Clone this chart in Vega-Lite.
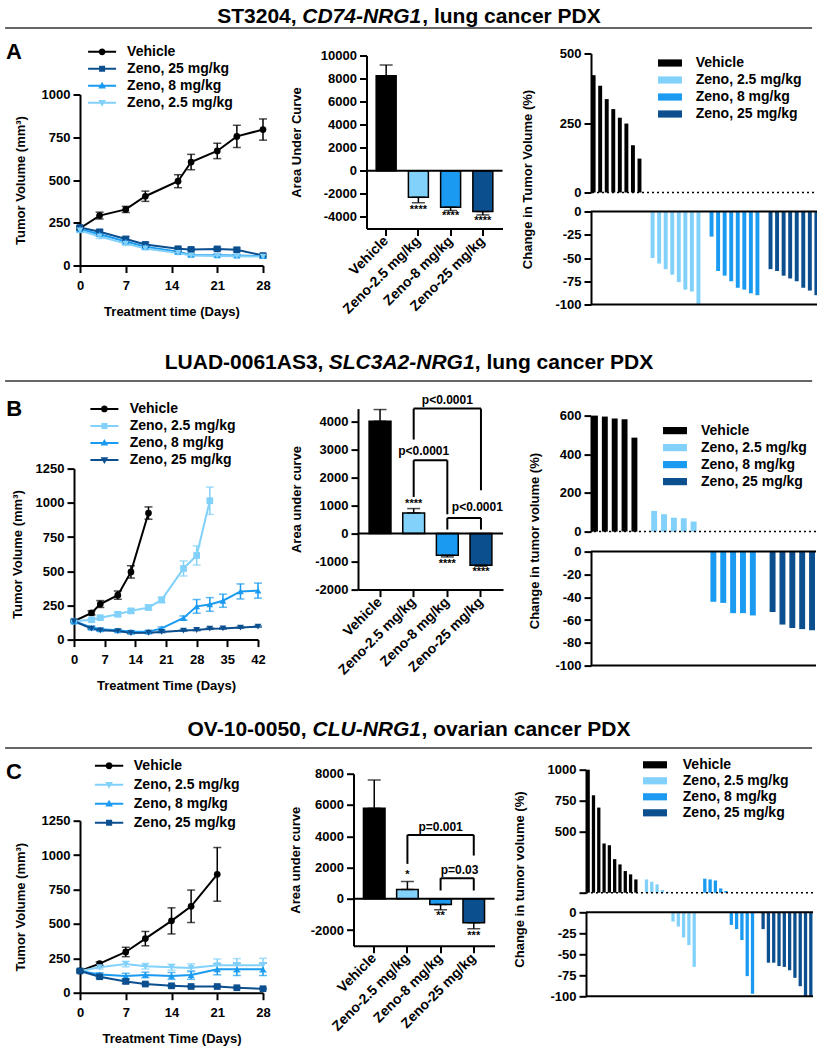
{
"$schema": "https://vega.github.io/schema/vega-lite/v6.json",
"padding": {"left": 4, "top": 5, "right": 0, "bottom": 0},
"background": "white",
"datasets": {
"wfA": [
{"p":1,"g":"Vehicle","v":422},{"p":2,"g":"Vehicle","v":384},{"p":3,"g":"Vehicle","v":336},{"p":4,"g":"Vehicle","v":300},{"p":5,"g":"Vehicle","v":269},{"p":6,"g":"Vehicle","v":248},{"p":7,"g":"Vehicle","v":170},{"p":8,"g":"Vehicle","v":122},
{"p":10,"g":"Zeno, 2.5 mg/kg","v":-50},{"p":11,"g":"Zeno, 2.5 mg/kg","v":-56},{"p":12,"g":"Zeno, 2.5 mg/kg","v":-62},{"p":13,"g":"Zeno, 2.5 mg/kg","v":-68},{"p":14,"g":"Zeno, 2.5 mg/kg","v":-76},{"p":15,"g":"Zeno, 2.5 mg/kg","v":-84},{"p":16,"g":"Zeno, 2.5 mg/kg","v":-86},{"p":17,"g":"Zeno, 2.5 mg/kg","v":-100},
{"p":19,"g":"Zeno, 8 mg/kg","v":-27},{"p":20,"g":"Zeno, 8 mg/kg","v":-64},{"p":21,"g":"Zeno, 8 mg/kg","v":-69},{"p":22,"g":"Zeno, 8 mg/kg","v":-75},{"p":23,"g":"Zeno, 8 mg/kg","v":-82},{"p":24,"g":"Zeno, 8 mg/kg","v":-84},{"p":25,"g":"Zeno, 8 mg/kg","v":-88},{"p":26,"g":"Zeno, 8 mg/kg","v":-90},
{"p":28,"g":"Zeno, 25 mg/kg","v":-62},{"p":29,"g":"Zeno, 25 mg/kg","v":-64},{"p":30,"g":"Zeno, 25 mg/kg","v":-69},{"p":31,"g":"Zeno, 25 mg/kg","v":-72},{"p":32,"g":"Zeno, 25 mg/kg","v":-75},{"p":33,"g":"Zeno, 25 mg/kg","v":-82},{"p":34,"g":"Zeno, 25 mg/kg","v":-85},{"p":35,"g":"Zeno, 25 mg/kg","v":-90}
],
"wfB": [
{"p":1,"g":"Vehicle","v":600},{"p":2,"g":"Vehicle","v":595},{"p":3,"g":"Vehicle","v":585},{"p":4,"g":"Vehicle","v":581},{"p":5,"g":"Vehicle","v":486},
{"p":7,"g":"Zeno, 2.5 mg/kg","v":107},{"p":8,"g":"Zeno, 2.5 mg/kg","v":90},{"p":9,"g":"Zeno, 2.5 mg/kg","v":72},{"p":10,"g":"Zeno, 2.5 mg/kg","v":69},{"p":11,"g":"Zeno, 2.5 mg/kg","v":52},
{"p":13,"g":"Zeno, 8 mg/kg","v":-44},{"p":14,"g":"Zeno, 8 mg/kg","v":-45},{"p":15,"g":"Zeno, 8 mg/kg","v":-54},{"p":16,"g":"Zeno, 8 mg/kg","v":-54},{"p":17,"g":"Zeno, 8 mg/kg","v":-56},
{"p":19,"g":"Zeno, 25 mg/kg","v":-53},{"p":20,"g":"Zeno, 25 mg/kg","v":-64},{"p":21,"g":"Zeno, 25 mg/kg","v":-67},{"p":22,"g":"Zeno, 25 mg/kg","v":-68},{"p":23,"g":"Zeno, 25 mg/kg","v":-69}
],
"wfC": [
{"p":1,"g":"Vehicle","v":1000},{"p":2,"g":"Vehicle","v":792},{"p":3,"g":"Vehicle","v":692},{"p":4,"g":"Vehicle","v":400},{"p":5,"g":"Vehicle","v":386},{"p":6,"g":"Vehicle","v":273},{"p":7,"g":"Vehicle","v":230},{"p":8,"g":"Vehicle","v":176},{"p":9,"g":"Vehicle","v":149},{"p":10,"g":"Vehicle","v":108},
{"p":12,"g":"Zeno, 2.5 mg/kg","v":108},{"p":13,"g":"Zeno, 2.5 mg/kg","v":89},{"p":14,"g":"Zeno, 2.5 mg/kg","v":68},{"p":15,"g":"Zeno, 2.5 mg/kg","v":22},{"p":16,"g":"Zeno, 2.5 mg/kg","v":8},{"p":17,"g":"Zeno, 2.5 mg/kg","v":-11},{"p":18,"g":"Zeno, 2.5 mg/kg","v":-17},{"p":19,"g":"Zeno, 2.5 mg/kg","v":-30},{"p":20,"g":"Zeno, 2.5 mg/kg","v":-39},{"p":21,"g":"Zeno, 2.5 mg/kg","v":-65},
{"p":23,"g":"Zeno, 8 mg/kg","v":114},{"p":24,"g":"Zeno, 8 mg/kg","v":108},{"p":25,"g":"Zeno, 8 mg/kg","v":100},{"p":26,"g":"Zeno, 8 mg/kg","v":35},{"p":27,"g":"Zeno, 8 mg/kg","v":14},{"p":28,"g":"Zeno, 8 mg/kg","v":-15},{"p":29,"g":"Zeno, 8 mg/kg","v":-20},{"p":30,"g":"Zeno, 8 mg/kg","v":-33},{"p":31,"g":"Zeno, 8 mg/kg","v":-76},{"p":32,"g":"Zeno, 8 mg/kg","v":-97},
{"p":34,"g":"Zeno, 25 mg/kg","v":-20},{"p":35,"g":"Zeno, 25 mg/kg","v":-60},{"p":36,"g":"Zeno, 25 mg/kg","v":-60},{"p":37,"g":"Zeno, 25 mg/kg","v":-64},{"p":38,"g":"Zeno, 25 mg/kg","v":-65},{"p":39,"g":"Zeno, 25 mg/kg","v":-69},{"p":40,"g":"Zeno, 25 mg/kg","v":-78},{"p":41,"g":"Zeno, 25 mg/kg","v":-88},{"p":42,"g":"Zeno, 25 mg/kg","v":-100},{"p":43,"g":"Zeno, 25 mg/kg","v":-100}
],
"brB": [
{"a":"Zeno-2.5 mg/kg","b":"Zeno-25 mg/kg","top":4462,"la":3356,"lb":1547,"tx":"Zeno-8 mg/kg","ty":4760,"t":"p<0.0001","k":"c"},
{"a":"Zeno-2.5 mg/kg","b":"Zeno-8 mg/kg","top":2618,"la":1309,"lb":690,"tx":"Zeno-2.5 mg/kg","ty":2940,"t":"p<0.0001","k":"h1"},
{"a":"Zeno-8 mg/kg","b":"Zeno-25 mg/kg","top":559,"la":143,"lb":143,"tx":"Zeno-8 mg/kg","ty":952,"t":"p<0.0001","k":"h2"}
],
"brC": [
{"a":"Zeno-2.5 mg/kg","b":"Zeno-25 mg/kg","top":4086,"la":2234,"lb":2766,"tx":"Zeno-8 mg/kg","ty":4575,"t":"p=0.001","k":"c"},
{"a":"Zeno-8 mg/kg","b":"Zeno-25 mg/kg","top":1319,"la":532,"lb":532,"tx":"Zeno-8 mg/kg","ty":1873,"t":"p=0.03","k":"h"}
]
},
"vconcat": [
{
"vconcat": [
{"vconcat": [
{"hconcat": [
{"width":1,"height":1,"data":{"values":[{}]},"mark":{"type":"point","size":0,"opacity":0},"encoding":{},"title":{"text":"ST3204,","fontSize":21,"fontWeight":"bold","anchor":"start","offset":-0.5}},
{"hconcat": [
{"width":1,"height":1,"data":{"values":[{}]},"mark":{"type":"point","size":0,"opacity":0},"encoding":{},"title":{"text":"CD74-NRG1","fontSize":21,"fontWeight":"bold","fontStyle":"italic","anchor":"start","offset":-0.5}},
{"width":1,"height":1,"data":{"values":[{}]},"mark":{"type":"point","size":0,"opacity":0},"encoding":{},"title":{"text":", lung cancer PDX","fontSize":21,"fontWeight":"bold","anchor":"start","offset":-0.5}}
], "spacing": 0}
], "spacing": 5},
{"width":807,"height":1,"data":{"values":[{}]},"mark":{"type":"rule","color":"#333333","strokeWidth":1.5},"encoding":{"y":{"datum":0,"type":"quantitative","scale":{"domain":[0,1]},"axis":null}}}
], "center": true, "spacing": 0},
{"hconcat": [
{"width":1,"height":1,"data":{"values":[{}]},"mark":{"type":"point","size":0,"opacity":0},"encoding":{}},
{"hconcat": [
{"vconcat": [
{"width":1,"height":52.7,"data":{"values":[{}]},"mark":{"type":"point","size":0,"opacity":0},"encoding":{}},
{
"width": 183, "height": 171,
"data": {"values": [
{"g":"Vehicle","d":0,"v":218,"e":10},{"g":"Vehicle","d":3,"v":292,"e":20},{"g":"Vehicle","d":7,"v":328,"e":18},{"g":"Vehicle","d":10,"v":405,"e":30},{"g":"Vehicle","d":15,"v":493,"e":38},{"g":"Vehicle","d":17,"v":605,"e":45},{"g":"Vehicle","d":21,"v":670,"e":45},{"g":"Vehicle","d":24,"v":755,"e":65},{"g":"Vehicle","d":28,"v":795,"e":62},
{"g":"Zeno, 25 mg/kg","d":0,"v":222,"e":10},{"g":"Zeno, 25 mg/kg","d":3,"v":197,"e":12},{"g":"Zeno, 25 mg/kg","d":7,"v":155,"e":14},{"g":"Zeno, 25 mg/kg","d":10,"v":123,"e":12},{"g":"Zeno, 25 mg/kg","d":15,"v":98,"e":10},{"g":"Zeno, 25 mg/kg","d":17,"v":94,"e":8},{"g":"Zeno, 25 mg/kg","d":21,"v":97,"e":10},{"g":"Zeno, 25 mg/kg","d":24,"v":92,"e":10},{"g":"Zeno, 25 mg/kg","d":28,"v":58,"e":8},
{"g":"Zeno, 8 mg/kg","d":0,"v":212,"e":12},{"g":"Zeno, 8 mg/kg","d":3,"v":183,"e":12},{"g":"Zeno, 8 mg/kg","d":7,"v":140,"e":12},{"g":"Zeno, 8 mg/kg","d":10,"v":110,"e":10},{"g":"Zeno, 8 mg/kg","d":15,"v":80,"e":8},{"g":"Zeno, 8 mg/kg","d":17,"v":62,"e":8},{"g":"Zeno, 8 mg/kg","d":21,"v":60,"e":8},{"g":"Zeno, 8 mg/kg","d":24,"v":58,"e":6},{"g":"Zeno, 8 mg/kg","d":28,"v":55,"e":6},
{"g":"Zeno, 2.5 mg/kg","d":0,"v":205,"e":12},{"g":"Zeno, 2.5 mg/kg","d":3,"v":170,"e":12},{"g":"Zeno, 2.5 mg/kg","d":7,"v":128,"e":10},{"g":"Zeno, 2.5 mg/kg","d":10,"v":100,"e":8},{"g":"Zeno, 2.5 mg/kg","d":15,"v":73,"e":8},{"g":"Zeno, 2.5 mg/kg","d":17,"v":58,"e":6},{"g":"Zeno, 2.5 mg/kg","d":21,"v":56,"e":6},{"g":"Zeno, 2.5 mg/kg","d":24,"v":54,"e":6},{"g":"Zeno, 2.5 mg/kg","d":28,"v":52,"e":6}
]},
"encoding": {
"x": {"field":"d","type":"quantitative","scale":{"domain":[0,28],"nice":false,"zero":false},"axis":{"values":[0,7,14,21,28],"title":"Treatment time (Days)","labelPadding":6.5,"titlePadding":13.5}},
"y": {"field":"v","type":"quantitative","scale":{"domain":[0,1000],"nice":false},"axis":{"values":[0,250,500,750,1000],"format":"d","title":"Tumor Volume (mm³)","titlePadding":14}}
},
"layer": [
{"mark":{"type":"errorbar","ticks":true,"size":8,"thickness":1.5},"encoding":{"yError":{"field":"e"},"color":{"field":"g","type":"nominal","scale":{"domain":["Vehicle","Zeno, 25 mg/kg","Zeno, 8 mg/kg","Zeno, 2.5 mg/kg"],"range":["#000000","#0c4f8f","#1a9af0","#82d1fa"]},"legend":null}}},
{"mark":{"type":"line","strokeWidth":2},"encoding":{"color":{"field":"g","type":"nominal","scale":{"domain":["Vehicle","Zeno, 25 mg/kg","Zeno, 8 mg/kg","Zeno, 2.5 mg/kg"],"range":["#000000","#0c4f8f","#1a9af0","#82d1fa"]},"legend":null}}},
{"mark":{"type":"point","filled":true,"size":45,"opacity":1},"encoding":{"color":{"field":"g","type":"nominal","scale":{"domain":["Vehicle","Zeno, 25 mg/kg","Zeno, 8 mg/kg","Zeno, 2.5 mg/kg"],"range":["#000000","#0c4f8f","#1a9af0","#82d1fa"]},"legend":null},"shape":{"field":"g","type":"nominal","scale":{"domain":["Vehicle","Zeno, 25 mg/kg","Zeno, 8 mg/kg","Zeno, 2.5 mg/kg"],"range":["circle","square","triangle-up","triangle-down"]},"legend":null}}},
{"transform":[{"filter":"false"}],"mark":{"type":"point","filled":true,"opacity":1},"encoding":{
"color":{"field":"g","type":"nominal","scale":{"domain":["Vehicle","Zeno, 25 mg/kg","Zeno, 8 mg/kg","Zeno, 2.5 mg/kg"],"range":["#000000","#0c4f8f","#1a9af0","#82d1fa"]},"legend":{"orient":"none","legendX":-74,"legendY":-52.7,"title":"A","titleOrient":"left","titleFontSize":22,"titleFontWeight":"bold","titleColor":"#000","titlePadding":70.1,"titleAnchor":"start","titleBaseline":"top","symbolSize":400,"symbolStrokeWidth":0,"symbolOpacity":1,"labelOffset":15,"rowPadding":0,"labelFontSize":14,"labelFontWeight":"bold","padding":0}},
"shape":{"field":"g","type":"nominal","scale":{"domain":["Vehicle","Zeno, 25 mg/kg","Zeno, 8 mg/kg","Zeno, 2.5 mg/kg"],"range":["M-1.4,-0.1H1.4V0.1H-1.4Z M0.34,0A0.34,0.34,0,1,1,-0.34,0A0.34,0.34,0,1,1,0.34,0Z","M-1.4,-0.1H1.4V0.1H-1.4Z M-0.3,-0.3H0.3V0.3H-0.3Z","M-1.4,-0.1H1.4V0.1H-1.4Z M0,-0.4L0.38,0.27H-0.38Z","M-1.4,-0.1H1.4V0.1H-1.4Z M0,0.4L-0.38,-0.27H0.38Z"]},"legend":{"orient":"none","legendX":-74,"legendY":-52.7,"title":"A","titleOrient":"left","titleFontSize":22,"titleFontWeight":"bold","titleColor":"#000","titlePadding":70.1,"titleAnchor":"start","titleBaseline":"top","symbolSize":400,"symbolStrokeWidth":0,"symbolOpacity":1,"labelOffset":15,"rowPadding":0,"labelFontSize":14,"labelFontWeight":"bold","padding":0}}
}}
],
"resolve": {"scale":{"color":"independent","shape":"independent"},"legend":{"color":"independent","shape":"independent"}}
}
], "spacing": 0, "bounds": "flush", "resolve": {"scale":{"color":"independent","shape":"independent"},"legend":{"color":"independent","shape":"independent"}}},
{"vconcat": [
{"width":1,"height":14,"data":{"values":[{}]},"mark":{"type":"point","size":0,"opacity":0},"encoding":{}},
{
"width": 136, "height": 173,
"data": {"values": [
{"g":"Vehicle","v":8235,"e":9176,"s":"","sy":0},
{"g":"Zeno-2.5 mg/kg","v":-2294,"e":-2765,"s":"****","sy":-3380},
{"g":"Zeno-8 mg/kg","v":-3147,"e":-3441,"s":"****","sy":-3910},
{"g":"Zeno-25 mg/kg","v":-3529,"e":-3824,"s":"****","sy":-4350}
]},
"layer": [
{"mark":{"type":"bar","stroke":"#000","strokeWidth":1.5},"encoding":{
"x":{"field":"g","type":"nominal","sort":null,"scale":{"domain":["Vehicle","Zeno-2.5 mg/kg","Zeno-8 mg/kg","Zeno-25 mg/kg"],"paddingInner":0.38,"paddingOuter":0.3},"axis":{"title":null,"labelAngle":-45,"labelAlign":"right","labelBaseline":"middle","labelPadding":3,"labelFontSize":14}},
"y":{"field":"v","type":"quantitative","scale":{"domain":[-5000,10000],"nice":false,"zero":false},"axis":{"values":[-4000,-2000,0,2000,4000,6000,8000,10000],"format":"d","title":"Area Under Curve","titlePadding":17}},
"color":{"field":"g","type":"nominal","scale":{"domain":["Vehicle","Zeno-2.5 mg/kg","Zeno-8 mg/kg","Zeno-25 mg/kg"],"range":["#000000","#82d1fa","#1a9af0","#0c4f8f"]},"legend":null}}},
{"mark":{"type":"errorbar","ticks":true,"size":13,"thickness":1.5,"color":"#000"},"encoding":{"x":{"field":"g","type":"nominal","axis":{"title":null,"labelAngle":-45,"labelAlign":"right","labelBaseline":"middle","labelPadding":3,"labelFontSize":14}},"y":{"field":"v","type":"quantitative","axis":{"values":[-4000,-2000,0,2000,4000,6000,8000,10000],"format":"d","title":"Area Under Curve","titlePadding":17}},"y2":{"field":"e"}}},
{"data":{"values":[{}]},"mark":{"type":"rule","color":"#000","strokeWidth":2},"encoding":{"y":{"datum":0,"type":"quantitative","axis":{"values":[-4000,-2000,0,2000,4000,6000,8000,10000],"format":"d","title":"Area Under Curve","titlePadding":17}}}},
{"mark":{"type":"text","fontSize":11,"fontWeight":"bold","baseline":"middle"},"encoding":{"x":{"field":"g","type":"nominal","axis":{"title":null,"labelAngle":-45,"labelAlign":"right","labelBaseline":"middle","labelPadding":3,"labelFontSize":14}},"y":{"field":"sy","type":"quantitative","axis":{"values":[-4000,-2000,0,2000,4000,6000,8000,10000],"format":"d","title":"Area Under Curve","titlePadding":17}},"text":{"field":"s"}}}
]
},
{"width":1,"height":97,"data":{"values":[{}]},"mark":{"type":"point","size":0,"opacity":0},"encoding":{}}
], "spacing": 0, "bounds": "flush"},
{"vconcat": [
{"width":1,"height":11.7,"data":{"values":[{}]},"mark":{"type":"point","size":0,"opacity":0},"encoding":{}},
{
"vconcat": [
{"width":228,"height":139,
"layer":[
{"data":{"name":"wfA"},"transform":[{"filter":"datum.v > 0"}],"mark":{"type":"bar"},"encoding":{
"x":{"field":"p","type":"ordinal","scale":{"domain":[1,2,3,4,5,6,7,8,9,10,11,12,13,14,15,16,17,18,19,20,21,22,23,24,25,26,27,28,29,30,31,32,33,34,35],"paddingInner":0.4,"paddingOuter":0.1},"axis":null},
"y":{"field":"v","type":"quantitative","scale":{"domain":[0,500],"nice":false},"axis":{"values":[0,250,500],"title":null}},
"color":{"field":"g","type":"nominal","scale":{"domain":["Vehicle","Zeno, 2.5 mg/kg","Zeno, 8 mg/kg","Zeno, 25 mg/kg"],"range":["#000000","#82d1fa","#1a9af0","#0c4f8f"]},"legend":{"orient":"none","legendX":69.5,"legendY":0,"title":null,"symbolType":"M-1.26,-0.38H1.26V0.38H-1.26Z","symbolSize":361,"symbolStrokeWidth":0,"symbolOpacity":1,"labelOffset":16.2,"rowPadding":0,"labelFontSize":14,"labelFontWeight":"bold","padding":0}}}},
{"data":{"values":[{}]},"mark":{"type":"rule","color":"#000","strokeWidth":1.5,"strokeDash":[2,3]},"encoding":{"y":{"datum":0,"type":"quantitative","axis":{"values":[0,250,500],"title":null}}}}
]},
{"width":228,"height":93,
"layer":[
{"data":{"name":"wfA"},"transform":[{"filter":"datum.v < 0"}],"mark":{"type":"bar"},"encoding":{
"x":{"field":"p","type":"ordinal","scale":{"domain":[1,2,3,4,5,6,7,8,9,10,11,12,13,14,15,16,17,18,19,20,21,22,23,24,25,26,27,28,29,30,31,32,33,34,35],"paddingInner":0.4,"paddingOuter":0.1},"axis":null},
"y":{"field":"v","type":"quantitative","scale":{"domain":[-100,0],"nice":false},"axis":{"values":[-100,-75,-50,-25,0],"title":null}},
"color":{"field":"g","type":"nominal","scale":{"domain":["Vehicle","Zeno, 2.5 mg/kg","Zeno, 8 mg/kg","Zeno, 25 mg/kg"],"range":["#000000","#82d1fa","#1a9af0","#0c4f8f"]},"legend":null}}},
{"data":{"values":[{}]},"mark":{"type":"rule","color":"#000","strokeWidth":2},"encoding":{"y":{"datum":0,"type":"quantitative","axis":{"values":[-100,-75,-50,-25,0],"title":null}}}},
{"data":{"values":[{}]},"mark":{"type":"rule","color":"#000","strokeWidth":2},"encoding":{"y":{"datum":-100,"type":"quantitative","axis":{"values":[-100,-75,-50,-25,0],"title":null}}}}
]}
],
"spacing": 19, "bounds": "flush",
"title": {"text":"Change in Tumor Volume (%)","orient":"left","anchor":"middle","fontSize":13,"fontWeight":"bold","offset":19.5,"frame":"bounds"},
"resolve": {"scale":{"color":"independent"},"legend":{"color":"independent"}}
}
], "spacing": 0, "bounds": "flush", "resolve": {"scale":{"color":"independent"},"legend":{"color":"independent"}}}
],
"spacing": 18.5,
"resolve": {"scale":{"color":"independent","shape":"independent"},"legend":{"color":"independent","shape":"independent"}}
}
], "spacing": 0, "resolve": {"scale":{"color":"independent","shape":"independent"},"legend":{"color":"independent","shape":"independent"}}}
],
"spacing": 12.5,
"resolve": {"scale":{"color":"independent","shape":"independent"},"legend":{"color":"independent","shape":"independent"}}
},
{
"vconcat": [
{"vconcat": [
{"hconcat": [
{"width":1,"height":1,"data":{"values":[{}]},"mark":{"type":"point","size":0,"opacity":0},"encoding":{},"title":{"text":"LUAD-0061AS3,","fontSize":21,"fontWeight":"bold","anchor":"start","offset":-0.5}},
{"hconcat": [
{"width":1,"height":1,"data":{"values":[{}]},"mark":{"type":"point","size":0,"opacity":0},"encoding":{},"title":{"text":"SLC3A2-NRG1","fontSize":21,"fontWeight":"bold","fontStyle":"italic","anchor":"start","offset":-0.5}},
{"width":1,"height":1,"data":{"values":[{}]},"mark":{"type":"point","size":0,"opacity":0},"encoding":{},"title":{"text":", lung cancer PDX","fontSize":21,"fontWeight":"bold","anchor":"start","offset":-0.5}}
], "spacing": 0}
], "spacing": 5},
{"width":807,"height":1,"data":{"values":[{}]},"mark":{"type":"rule","color":"#333333","strokeWidth":1.5},"encoding":{"y":{"datum":0,"type":"quantitative","scale":{"domain":[0,1]},"axis":null}}}
], "center": true, "spacing": 7},
{"hconcat": [
{"width":1,"height":1,"data":{"values":[{}]},"mark":{"type":"point","size":0,"opacity":0},"encoding":{}},
{"hconcat": [
{"vconcat": [
{"width":1,"height":69.7,"data":{"values":[{}]},"mark":{"type":"point","size":0,"opacity":0},"encoding":{}},
{
"width": 184, "height": 171,
"data": {"values": [
{"g":"Vehicle","d":0,"v":134,"e":8},{"g":"Vehicle","d":4,"v":195,"e":15},{"g":"Vehicle","d":6,"v":260,"e":25},{"g":"Vehicle","d":10,"v":325,"e":30},{"g":"Vehicle","d":13,"v":495,"e":45},{"g":"Vehicle","d":17,"v":925,"e":45},
{"g":"Zeno, 2.5 mg/kg","d":0,"v":134,"e":8},{"g":"Zeno, 2.5 mg/kg","d":4,"v":145,"e":12},{"g":"Zeno, 2.5 mg/kg","d":6,"v":160,"e":12},{"g":"Zeno, 2.5 mg/kg","d":10,"v":185,"e":15},{"g":"Zeno, 2.5 mg/kg","d":13,"v":210,"e":15},{"g":"Zeno, 2.5 mg/kg","d":17,"v":235,"e":18},{"g":"Zeno, 2.5 mg/kg","d":20,"v":290,"e":20},{"g":"Zeno, 2.5 mg/kg","d":25,"v":520,"e":55},{"g":"Zeno, 2.5 mg/kg","d":28,"v":615,"e":70},{"g":"Zeno, 2.5 mg/kg","d":31,"v":1015,"e":100},
{"g":"Zeno, 8 mg/kg","d":0,"v":134,"e":8},{"g":"Zeno, 8 mg/kg","d":4,"v":88,"e":10},{"g":"Zeno, 8 mg/kg","d":6,"v":75,"e":8},{"g":"Zeno, 8 mg/kg","d":10,"v":68,"e":8},{"g":"Zeno, 8 mg/kg","d":13,"v":58,"e":8},{"g":"Zeno, 8 mg/kg","d":17,"v":58,"e":8},{"g":"Zeno, 8 mg/kg","d":20,"v":82,"e":10},{"g":"Zeno, 8 mg/kg","d":25,"v":158,"e":15},{"g":"Zeno, 8 mg/kg","d":28,"v":243,"e":50},{"g":"Zeno, 8 mg/kg","d":31,"v":257,"e":50},{"g":"Zeno, 8 mg/kg","d":34,"v":284,"e":48},{"g":"Zeno, 8 mg/kg","d":38,"v":352,"e":55},{"g":"Zeno, 8 mg/kg","d":42,"v":358,"e":55},
{"g":"Zeno, 25 mg/kg","d":0,"v":134,"e":8},{"g":"Zeno, 25 mg/kg","d":4,"v":80,"e":6},{"g":"Zeno, 25 mg/kg","d":6,"v":68,"e":5},{"g":"Zeno, 25 mg/kg","d":10,"v":62,"e":5},{"g":"Zeno, 25 mg/kg","d":13,"v":48,"e":5},{"g":"Zeno, 25 mg/kg","d":17,"v":50,"e":5},{"g":"Zeno, 25 mg/kg","d":20,"v":56,"e":5},{"g":"Zeno, 25 mg/kg","d":25,"v":66,"e":5},{"g":"Zeno, 25 mg/kg","d":28,"v":70,"e":5},{"g":"Zeno, 25 mg/kg","d":31,"v":80,"e":5},{"g":"Zeno, 25 mg/kg","d":34,"v":82,"e":5},{"g":"Zeno, 25 mg/kg","d":38,"v":88,"e":5},{"g":"Zeno, 25 mg/kg","d":42,"v":95,"e":5}
]},
"encoding": {
"x": {"field":"d","type":"quantitative","scale":{"domain":[0,42],"nice":false,"zero":false},"axis":{"values":[0,7,14,21,28,35,42],"title":"Treatment Time (Days)","labelPadding":6.5,"titlePadding":13.5}},
"y": {"field":"v","type":"quantitative","scale":{"domain":[0,1250],"nice":false},"axis":{"values":[0,250,500,750,1000,1250],"format":"d","title":"Tumor Volume (mm³)","titlePadding":10.8}}
},
"layer": [
{"mark":{"type":"errorbar","ticks":true,"size":8,"thickness":1.5},"encoding":{"yError":{"field":"e"},"color":{"field":"g","type":"nominal","scale":{"domain":["Vehicle","Zeno, 2.5 mg/kg","Zeno, 8 mg/kg","Zeno, 25 mg/kg"],"range":["#000000","#82d1fa","#1a9af0","#0c4f8f"]},"legend":null}}},
{"mark":{"type":"line","strokeWidth":2},"encoding":{"color":{"field":"g","type":"nominal","scale":{"domain":["Vehicle","Zeno, 2.5 mg/kg","Zeno, 8 mg/kg","Zeno, 25 mg/kg"],"range":["#000000","#82d1fa","#1a9af0","#0c4f8f"]},"legend":null}}},
{"mark":{"type":"point","filled":true,"size":45,"opacity":1},"encoding":{"color":{"field":"g","type":"nominal","scale":{"domain":["Vehicle","Zeno, 2.5 mg/kg","Zeno, 8 mg/kg","Zeno, 25 mg/kg"],"range":["#000000","#82d1fa","#1a9af0","#0c4f8f"]},"legend":null},"shape":{"field":"g","type":"nominal","scale":{"domain":["Vehicle","Zeno, 2.5 mg/kg","Zeno, 8 mg/kg","Zeno, 25 mg/kg"],"range":["circle","square","triangle-up","triangle-down"]},"legend":null}}},
{"transform":[{"filter":"false"}],"mark":{"type":"point","filled":true,"opacity":1},"encoding":{
"color":{"field":"g","type":"nominal","scale":{"domain":["Vehicle","Zeno, 2.5 mg/kg","Zeno, 8 mg/kg","Zeno, 25 mg/kg"],"range":["#000000","#82d1fa","#1a9af0","#0c4f8f"]},"legend":{"orient":"none","legendX":-67.7,"legendY":-69.7,"title":"B","titleOrient":"left","titleFontSize":22,"titleFontWeight":"bold","titleColor":"#000","titlePadding":72.1,"titleAnchor":"start","titleBaseline":"top","symbolSize":400,"symbolStrokeWidth":0,"symbolOpacity":1,"labelOffset":15.3,"rowPadding":0,"labelFontSize":14,"labelFontWeight":"bold","padding":0}},
"shape":{"field":"g","type":"nominal","scale":{"domain":["Vehicle","Zeno, 2.5 mg/kg","Zeno, 8 mg/kg","Zeno, 25 mg/kg"],"range":["M-1.4,-0.1H1.4V0.1H-1.4Z M0.34,0A0.34,0.34,0,1,1,-0.34,0A0.34,0.34,0,1,1,0.34,0Z","M-1.4,-0.1H1.4V0.1H-1.4Z M-0.3,-0.3H0.3V0.3H-0.3Z","M-1.4,-0.1H1.4V0.1H-1.4Z M0,-0.4L0.38,0.27H-0.38Z","M-1.4,-0.1H1.4V0.1H-1.4Z M0,0.4L-0.38,-0.27H0.38Z"]},"legend":{"orient":"none","legendX":-67.7,"legendY":-69.7,"title":"B","titleOrient":"left","titleFontSize":22,"titleFontWeight":"bold","titleColor":"#000","titlePadding":72.1,"titleAnchor":"start","titleBaseline":"top","symbolSize":400,"symbolStrokeWidth":0,"symbolOpacity":1,"labelOffset":15.3,"rowPadding":0,"labelFontSize":14,"labelFontWeight":"bold","padding":0}}
}}
],
"resolve": {"scale":{"color":"independent","shape":"independent"},"legend":{"color":"independent","shape":"independent"}}
}
], "spacing": 0, "bounds": "flush", "resolve": {"scale":{"color":"independent","shape":"independent"},"legend":{"color":"independent","shape":"independent"}}},
{"vconcat": [
{"width":1,"height":10,"data":{"values":[{}]},"mark":{"type":"point","size":0,"opacity":0},"encoding":{}},
{
"width": 145, "height": 181,
"data": {"values": [
{"g":"Vehicle","v":4012,"e":4428,"s":"","sy":0},
{"g":"Zeno-2.5 mg/kg","v":738,"e":893,"s":"****","sy":1047},
{"g":"Zeno-8 mg/kg","v":-774,"e":-833,"s":"****","sy":-1071},
{"g":"Zeno-25 mg/kg","v":-1131,"e":-1166,"s":"****","sy":-1369}
]},
"layer": [
{"mark":{"type":"bar","stroke":"#000","strokeWidth":1.5},"encoding":{
"x":{"field":"g","type":"nominal","sort":null,"scale":{"domain":["Vehicle","Zeno-2.5 mg/kg","Zeno-8 mg/kg","Zeno-25 mg/kg"],"paddingInner":0.35,"paddingOuter":0.33},"axis":{"title":null,"labelAngle":-45,"labelAlign":"right","labelBaseline":"middle","labelPadding":3,"labelFontSize":14}},
"y":{"field":"v","type":"quantitative","scale":{"domain":[-2000,4462],"nice":false,"zero":false},"axis":{"values":[-2000,-1000,0,1000,2000,3000,4000],"format":"d","title":"Area under curve","titlePadding":11.5}},
"color":{"field":"g","type":"nominal","scale":{"domain":["Vehicle","Zeno-2.5 mg/kg","Zeno-8 mg/kg","Zeno-25 mg/kg"],"range":["#000000","#82d1fa","#1a9af0","#0c4f8f"]},"legend":null}}},
{"mark":{"type":"errorbar","ticks":true,"size":13,"thickness":1.5,"color":"#000"},"encoding":{"x":{"field":"g","type":"nominal","axis":{"title":null,"labelAngle":-45,"labelAlign":"right","labelBaseline":"middle","labelPadding":3,"labelFontSize":14}},"y":{"field":"v","type":"quantitative","axis":{"values":[-2000,-1000,0,1000,2000,3000,4000],"format":"d","title":"Area under curve","titlePadding":11.5}},"y2":{"field":"e"}}},
{"data":{"values":[{}]},"mark":{"type":"rule","color":"#000","strokeWidth":2},"encoding":{"y":{"datum":0,"type":"quantitative","axis":{"values":[-2000,-1000,0,1000,2000,3000,4000],"format":"d","title":"Area under curve","titlePadding":11.5}}}},
{"mark":{"type":"text","fontSize":11,"fontWeight":"bold","baseline":"middle"},"encoding":{"x":{"field":"g","type":"nominal","axis":{"title":null,"labelAngle":-45,"labelAlign":"right","labelBaseline":"middle","labelPadding":3,"labelFontSize":14}},"y":{"field":"sy","type":"quantitative","axis":{"values":[-2000,-1000,0,1000,2000,3000,4000],"format":"d","title":"Area under curve","titlePadding":11.5}},"text":{"field":"s"}}},
{"data":{"name":"brB"},"mark":{"type":"rule","color":"#000","strokeWidth":2},"encoding":{"x":{"field":"a","type":"nominal","axis":{"title":null,"labelAngle":-45,"labelAlign":"right","labelBaseline":"middle","labelPadding":3,"labelFontSize":14}},"x2":{"field":"b"},"y":{"field":"top","type":"quantitative","axis":{"values":[-2000,-1000,0,1000,2000,3000,4000],"format":"d","title":"Area under curve","titlePadding":11.5}}}},
{"data":{"name":"brB"},"mark":{"type":"rule","color":"#000","strokeWidth":2},"encoding":{"x":{"field":"a","type":"nominal","axis":{"title":null,"labelAngle":-45,"labelAlign":"right","labelBaseline":"middle","labelPadding":3,"labelFontSize":14}},"y":{"field":"top","type":"quantitative","axis":{"values":[-2000,-1000,0,1000,2000,3000,4000],"format":"d","title":"Area under curve","titlePadding":11.5}},"y2":{"field":"la"}}},
{"data":{"name":"brB"},"mark":{"type":"rule","color":"#000","strokeWidth":2},"encoding":{"x":{"field":"b","type":"nominal","axis":{"title":null,"labelAngle":-45,"labelAlign":"right","labelBaseline":"middle","labelPadding":3,"labelFontSize":14}},"y":{"field":"top","type":"quantitative","axis":{"values":[-2000,-1000,0,1000,2000,3000,4000],"format":"d","title":"Area under curve","titlePadding":11.5}},"y2":{"field":"lb"}}},
{"data":{"name":"brB"},"transform":[{"filter":"datum.k == 'c'"}],"mark":{"type":"text","fontSize":12,"fontWeight":"bold"},"encoding":{"x":{"field":"tx","type":"nominal","axis":{"title":null,"labelAngle":-45,"labelAlign":"right","labelBaseline":"middle","labelPadding":3,"labelFontSize":14}},"y":{"field":"ty","type":"quantitative","axis":{"values":[-2000,-1000,0,1000,2000,3000,4000],"format":"d","title":"Area under curve","titlePadding":11.5}},"text":{"field":"t"}}},
{"data":{"name":"brB"},"transform":[{"filter":"datum.k == 'h1'"}],"mark":{"type":"text","fontSize":12,"fontWeight":"bold","dx":10},"encoding":{"x":{"field":"tx","type":"nominal","axis":{"title":null,"labelAngle":-45,"labelAlign":"right","labelBaseline":"middle","labelPadding":3,"labelFontSize":14}},"y":{"field":"ty","type":"quantitative","axis":{"values":[-2000,-1000,0,1000,2000,3000,4000],"format":"d","title":"Area under curve","titlePadding":11.5}},"text":{"field":"t"}}},
{"data":{"name":"brB"},"transform":[{"filter":"datum.k == 'h2'"}],"mark":{"type":"text","fontSize":12,"fontWeight":"bold","dx":30},"encoding":{"x":{"field":"tx","type":"nominal","axis":{"title":null,"labelAngle":-45,"labelAlign":"right","labelBaseline":"middle","labelPadding":3,"labelFontSize":14}},"y":{"field":"ty","type":"quantitative","axis":{"values":[-2000,-1000,0,1000,2000,3000,4000],"format":"d","title":"Area under curve","titlePadding":11.5}},"text":{"field":"t"}}}
]
}
], "spacing": 0, "bounds": "flush"},
{"vconcat": [
{"width":1,"height":16.7,"data":{"values":[{}]},"mark":{"type":"point","size":0,"opacity":0},"encoding":{}},
{
"vconcat": [
{"width":225,"height":116,
"layer":[
{"data":{"name":"wfB"},"transform":[{"filter":"datum.v > 0"}],"mark":{"type":"bar"},"encoding":{
"x":{"field":"p","type":"ordinal","scale":{"domain":[1,2,3,4,5,6,7,8,9,10,11,12,13,14,15,16,17,18,19,20,21,22,23],"paddingInner":0.4,"paddingOuter":0.1},"axis":null},
"y":{"field":"v","type":"quantitative","scale":{"domain":[0,600],"nice":false},"axis":{"values":[0,200,400,600],"title":null}},
"color":{"field":"g","type":"nominal","scale":{"domain":["Vehicle","Zeno, 2.5 mg/kg","Zeno, 8 mg/kg","Zeno, 25 mg/kg"],"range":["#000000","#82d1fa","#1a9af0","#0c4f8f"]},"legend":{"orient":"none","legendX":74.5,"legendY":5.5,"title":null,"symbolType":"M-1.26,-0.38H1.26V0.38H-1.26Z","symbolSize":361,"symbolStrokeWidth":0,"symbolOpacity":1,"labelOffset":16.5,"rowPadding":0,"labelFontSize":14,"labelFontWeight":"bold","padding":0}}}},
{"data":{"values":[{}]},"mark":{"type":"rule","color":"#000","strokeWidth":1.5,"strokeDash":[2,3]},"encoding":{"y":{"datum":0,"type":"quantitative","axis":{"values":[0,200,400,600],"title":null}}}}
]},
{"width":225,"height":114,
"layer":[
{"data":{"name":"wfB"},"transform":[{"filter":"datum.v < 0"}],"mark":{"type":"bar"},"encoding":{
"x":{"field":"p","type":"ordinal","scale":{"domain":[1,2,3,4,5,6,7,8,9,10,11,12,13,14,15,16,17,18,19,20,21,22,23],"paddingInner":0.4,"paddingOuter":0.1},"axis":null},
"y":{"field":"v","type":"quantitative","scale":{"domain":[-100,0],"nice":false},"axis":{"values":[-100,-80,-60,-40,-20,0],"title":null}},
"color":{"field":"g","type":"nominal","scale":{"domain":["Vehicle","Zeno, 2.5 mg/kg","Zeno, 8 mg/kg","Zeno, 25 mg/kg"],"range":["#000000","#82d1fa","#1a9af0","#0c4f8f"]},"legend":null}}},
{"data":{"values":[{}]},"mark":{"type":"rule","color":"#000","strokeWidth":2},"encoding":{"y":{"datum":0,"type":"quantitative","axis":{"values":[-100,-80,-60,-40,-20,0],"title":null}}}},
{"data":{"values":[{}]},"mark":{"type":"rule","color":"#000","strokeWidth":2},"encoding":{"y":{"datum":-100,"type":"quantitative","axis":{"values":[-100,-80,-60,-40,-20,0],"title":null}}}}
]}
],
"spacing": 20, "bounds": "flush",
"title": {"text":"Change in tumor volume (%)","orient":"left","anchor":"middle","fontSize":13,"fontWeight":"bold","offset":13.3,"frame":"bounds"},
"resolve": {"scale":{"color":"independent"},"legend":{"color":"independent"}}
}
], "spacing": 0, "bounds": "flush", "resolve": {"scale":{"color":"independent"},"legend":{"color":"independent"}}}
],
"spacing": 24,
"resolve": {"scale":{"color":"independent","shape":"independent"},"legend":{"color":"independent","shape":"independent"}}
}
], "spacing": 0, "resolve": {"scale":{"color":"independent","shape":"independent"},"legend":{"color":"independent","shape":"independent"}}}
],
"spacing": 11.6,
"resolve": {"scale":{"color":"independent","shape":"independent"},"legend":{"color":"independent","shape":"independent"}}
},
{
"vconcat": [
{"vconcat": [
{"hconcat": [
{"width":1,"height":1,"data":{"values":[{}]},"mark":{"type":"point","size":0,"opacity":0},"encoding":{},"title":{"text":"OV-10-0050,","fontSize":21,"fontWeight":"bold","anchor":"start","offset":-0.5}},
{"hconcat": [
{"width":1,"height":1,"data":{"values":[{}]},"mark":{"type":"point","size":0,"opacity":0},"encoding":{},"title":{"text":"CLU-NRG1","fontSize":21,"fontWeight":"bold","fontStyle":"italic","anchor":"start","offset":-0.5}},
{"width":1,"height":1,"data":{"values":[{}]},"mark":{"type":"point","size":0,"opacity":0},"encoding":{},"title":{"text":", ovarian cancer PDX","fontSize":21,"fontWeight":"bold","anchor":"start","offset":-0.5}}
], "spacing": 0}
], "spacing": 5},
{"width":807,"height":1,"data":{"values":[{}]},"mark":{"type":"rule","color":"#333333","strokeWidth":1.5},"encoding":{"y":{"datum":0,"type":"quantitative","scale":{"domain":[0,1]},"axis":null}}}
], "center": true, "spacing": 7},
{"hconcat": [
{"width":1,"height":1,"data":{"values":[{}]},"mark":{"type":"point","size":0,"opacity":0},"encoding":{}},
{"hconcat": [
{"vconcat": [
{"width":1,"height":65.5,"data":{"values":[{}]},"mark":{"type":"point","size":0,"opacity":0},"encoding":{}},
{
"width": 183, "height": 172,
"data": {"values": [
{"g":"Vehicle","d":0,"v":158,"e":10},{"g":"Vehicle","d":3,"v":211,"e":12},{"g":"Vehicle","d":7,"v":296,"e":34},{"g":"Vehicle","d":10,"v":393,"e":52},{"g":"Vehicle","d":14,"v":522,"e":95},{"g":"Vehicle","d":17,"v":628,"e":118},{"g":"Vehicle","d":21,"v":860,"e":195},
{"g":"Zeno, 2.5 mg/kg","d":0,"v":158,"e":10},{"g":"Zeno, 2.5 mg/kg","d":3,"v":185,"e":12},{"g":"Zeno, 2.5 mg/kg","d":7,"v":208,"e":20},{"g":"Zeno, 2.5 mg/kg","d":10,"v":192,"e":20},{"g":"Zeno, 2.5 mg/kg","d":14,"v":185,"e":22},{"g":"Zeno, 2.5 mg/kg","d":17,"v":180,"e":30},{"g":"Zeno, 2.5 mg/kg","d":21,"v":200,"e":45},{"g":"Zeno, 2.5 mg/kg","d":24,"v":200,"e":48},{"g":"Zeno, 2.5 mg/kg","d":28,"v":200,"e":50},
{"g":"Zeno, 8 mg/kg","d":0,"v":158,"e":10},{"g":"Zeno, 8 mg/kg","d":3,"v":133,"e":12},{"g":"Zeno, 8 mg/kg","d":7,"v":121,"e":20},{"g":"Zeno, 8 mg/kg","d":10,"v":129,"e":20},{"g":"Zeno, 8 mg/kg","d":14,"v":122,"e":25},{"g":"Zeno, 8 mg/kg","d":17,"v":128,"e":30},{"g":"Zeno, 8 mg/kg","d":21,"v":170,"e":40},{"g":"Zeno, 8 mg/kg","d":24,"v":170,"e":45},{"g":"Zeno, 8 mg/kg","d":28,"v":170,"e":45},
{"g":"Zeno, 25 mg/kg","d":0,"v":158,"e":10},{"g":"Zeno, 25 mg/kg","d":3,"v":116,"e":10},{"g":"Zeno, 25 mg/kg","d":7,"v":82,"e":15},{"g":"Zeno, 25 mg/kg","d":10,"v":63,"e":8},{"g":"Zeno, 25 mg/kg","d":14,"v":50,"e":8},{"g":"Zeno, 25 mg/kg","d":17,"v":45,"e":6},{"g":"Zeno, 25 mg/kg","d":21,"v":45,"e":6},{"g":"Zeno, 25 mg/kg","d":24,"v":36,"e":5},{"g":"Zeno, 25 mg/kg","d":28,"v":29,"e":5}
]},
"encoding": {
"x": {"field":"d","type":"quantitative","scale":{"domain":[0,28],"nice":false,"zero":false},"axis":{"values":[0,7,14,21,28],"title":"Treatment Time (Days)","labelPadding":6.5,"titlePadding":13.5}},
"y": {"field":"v","type":"quantitative","scale":{"domain":[0,1250],"nice":false},"axis":{"values":[0,250,500,750,1000,1250],"format":"d","title":"Tumor Volume (mm³)","titlePadding":14}}
},
"layer": [
{"mark":{"type":"errorbar","ticks":true,"size":8,"thickness":1.5},"encoding":{"yError":{"field":"e"},"color":{"field":"g","type":"nominal","scale":{"domain":["Vehicle","Zeno, 2.5 mg/kg","Zeno, 8 mg/kg","Zeno, 25 mg/kg"],"range":["#000000","#82d1fa","#1a9af0","#0c4f8f"]},"legend":null}}},
{"mark":{"type":"line","strokeWidth":2},"encoding":{"color":{"field":"g","type":"nominal","scale":{"domain":["Vehicle","Zeno, 2.5 mg/kg","Zeno, 8 mg/kg","Zeno, 25 mg/kg"],"range":["#000000","#82d1fa","#1a9af0","#0c4f8f"]},"legend":null}}},
{"mark":{"type":"point","filled":true,"size":45,"opacity":1},"encoding":{"color":{"field":"g","type":"nominal","scale":{"domain":["Vehicle","Zeno, 2.5 mg/kg","Zeno, 8 mg/kg","Zeno, 25 mg/kg"],"range":["#000000","#82d1fa","#1a9af0","#0c4f8f"]},"legend":null},"shape":{"field":"g","type":"nominal","scale":{"domain":["Vehicle","Zeno, 2.5 mg/kg","Zeno, 8 mg/kg","Zeno, 25 mg/kg"],"range":["circle","triangle-down","triangle-up","square"]},"legend":null}}},
{"transform":[{"filter":"false"}],"mark":{"type":"point","filled":true,"opacity":1},"encoding":{
"color":{"field":"g","type":"nominal","scale":{"domain":["Vehicle","Zeno, 2.5 mg/kg","Zeno, 8 mg/kg","Zeno, 25 mg/kg"],"range":["#000000","#82d1fa","#1a9af0","#0c4f8f"]},"legend":{"orient":"none","legendX":-74,"legendY":-65.5,"title":"C","titleOrient":"left","titleFontSize":22,"titleFontWeight":"bold","titleColor":"#000","titlePadding":76.6,"titleAnchor":"start","titleBaseline":"line-top","titleLineHeight":35,"symbolSize":441,"symbolStrokeWidth":0,"symbolOpacity":1,"labelOffset":14.2,"rowPadding":1,"labelFontSize":14,"labelFontWeight":"bold","padding":0}},
"shape":{"field":"g","type":"nominal","scale":{"domain":["Vehicle","Zeno, 2.5 mg/kg","Zeno, 8 mg/kg","Zeno, 25 mg/kg"],"range":["M-1.35,-0.1H1.35V0.1H-1.35Z M0.33,0A0.33,0.33,0,1,1,-0.33,0A0.33,0.33,0,1,1,0.33,0Z","M-1.35,-0.1H1.35V0.1H-1.35Z M0,0.38L-0.36,-0.26H0.36Z","M-1.35,-0.1H1.35V0.1H-1.35Z M0,-0.38L0.36,0.26H-0.36Z","M-1.35,-0.1H1.35V0.1H-1.35Z M-0.29,-0.29H0.29V0.29H-0.29Z"]},"legend":{"orient":"none","legendX":-74,"legendY":-65.5,"title":"C","titleOrient":"left","titleFontSize":22,"titleFontWeight":"bold","titleColor":"#000","titlePadding":76.6,"titleAnchor":"start","titleBaseline":"line-top","titleLineHeight":35,"symbolSize":441,"symbolStrokeWidth":0,"symbolOpacity":1,"labelOffset":14.2,"rowPadding":1,"labelFontSize":14,"labelFontWeight":"bold","padding":0}}
}}
],
"resolve": {"scale":{"color":"independent","shape":"independent"},"legend":{"color":"independent","shape":"independent"}}
}
], "spacing": 0, "bounds": "flush", "resolve": {"scale":{"color":"independent","shape":"independent"},"legend":{"color":"independent","shape":"independent"}}},
{"vconcat": [
{"width":1,"height":18.2,"data":{"values":[{}]},"mark":{"type":"point","size":0,"opacity":0},"encoding":{}},
{
"width": 141, "height": 172,
"data": {"values": [
{"g":"Vehicle","v":5788,"e":7597,"s":"","sy":0},
{"g":"Zeno-2.5 mg/kg","v":596,"e":1106,"s":"*","sy":1553},
{"g":"Zeno-8 mg/kg","v":-362,"e":-702,"s":"**","sy":-1128},
{"g":"Zeno-25 mg/kg","v":-1532,"e":-1915,"s":"***","sy":-2405}
]},
"layer": [
{"mark":{"type":"bar","stroke":"#000","strokeWidth":1.5},"encoding":{
"x":{"field":"g","type":"nominal","sort":null,"scale":{"domain":["Vehicle","Zeno-2.5 mg/kg","Zeno-8 mg/kg","Zeno-25 mg/kg"],"paddingInner":0.35,"paddingOuter":0.3},"axis":{"title":null,"labelAngle":-45,"labelAlign":"right","labelBaseline":"middle","labelPadding":3,"labelFontSize":14}},
"y":{"field":"v","type":"quantitative","scale":{"domain":[-3000,8000],"nice":false,"zero":false},"axis":{"values":[-2000,0,2000,4000,6000,8000],"format":"d","title":"Area under curve","titlePadding":7.5}},
"color":{"field":"g","type":"nominal","scale":{"domain":["Vehicle","Zeno-2.5 mg/kg","Zeno-8 mg/kg","Zeno-25 mg/kg"],"range":["#000000","#82d1fa","#1a9af0","#0c4f8f"]},"legend":null}}},
{"mark":{"type":"errorbar","ticks":true,"size":13,"thickness":1.5,"color":"#000"},"encoding":{"x":{"field":"g","type":"nominal","axis":{"title":null,"labelAngle":-45,"labelAlign":"right","labelBaseline":"middle","labelPadding":3,"labelFontSize":14}},"y":{"field":"v","type":"quantitative","axis":{"values":[-2000,0,2000,4000,6000,8000],"format":"d","title":"Area under curve","titlePadding":7.5}},"y2":{"field":"e"}}},
{"data":{"values":[{}]},"mark":{"type":"rule","color":"#000","strokeWidth":2},"encoding":{"y":{"datum":0,"type":"quantitative","axis":{"values":[-2000,0,2000,4000,6000,8000],"format":"d","title":"Area under curve","titlePadding":7.5}}}},
{"mark":{"type":"text","fontSize":11,"fontWeight":"bold","baseline":"middle"},"encoding":{"x":{"field":"g","type":"nominal","axis":{"title":null,"labelAngle":-45,"labelAlign":"right","labelBaseline":"middle","labelPadding":3,"labelFontSize":14}},"y":{"field":"sy","type":"quantitative","axis":{"values":[-2000,0,2000,4000,6000,8000],"format":"d","title":"Area under curve","titlePadding":7.5}},"text":{"field":"s"}}},
{"data":{"name":"brC"},"mark":{"type":"rule","color":"#000","strokeWidth":2},"encoding":{"x":{"field":"a","type":"nominal","axis":{"title":null,"labelAngle":-45,"labelAlign":"right","labelBaseline":"middle","labelPadding":3,"labelFontSize":14}},"x2":{"field":"b"},"y":{"field":"top","type":"quantitative","axis":{"values":[-2000,0,2000,4000,6000,8000],"format":"d","title":"Area under curve","titlePadding":7.5}}}},
{"data":{"name":"brC"},"mark":{"type":"rule","color":"#000","strokeWidth":2},"encoding":{"x":{"field":"a","type":"nominal","axis":{"title":null,"labelAngle":-45,"labelAlign":"right","labelBaseline":"middle","labelPadding":3,"labelFontSize":14}},"y":{"field":"top","type":"quantitative","axis":{"values":[-2000,0,2000,4000,6000,8000],"format":"d","title":"Area under curve","titlePadding":7.5}},"y2":{"field":"la"}}},
{"data":{"name":"brC"},"mark":{"type":"rule","color":"#000","strokeWidth":2},"encoding":{"x":{"field":"b","type":"nominal","axis":{"title":null,"labelAngle":-45,"labelAlign":"right","labelBaseline":"middle","labelPadding":3,"labelFontSize":14}},"y":{"field":"top","type":"quantitative","axis":{"values":[-2000,0,2000,4000,6000,8000],"format":"d","title":"Area under curve","titlePadding":7.5}},"y2":{"field":"lb"}}},
{"data":{"name":"brC"},"transform":[{"filter":"datum.k == 'c'"}],"mark":{"type":"text","fontSize":12,"fontWeight":"bold"},"encoding":{"x":{"field":"tx","type":"nominal","axis":{"title":null,"labelAngle":-45,"labelAlign":"right","labelBaseline":"middle","labelPadding":3,"labelFontSize":14}},"y":{"field":"ty","type":"quantitative","axis":{"values":[-2000,0,2000,4000,6000,8000],"format":"d","title":"Area under curve","titlePadding":7.5}},"text":{"field":"t"}}},
{"data":{"name":"brC"},"transform":[{"filter":"datum.k == 'h'"}],"mark":{"type":"text","fontSize":12,"fontWeight":"bold","dx":19},"encoding":{"x":{"field":"tx","type":"nominal","axis":{"title":null,"labelAngle":-45,"labelAlign":"right","labelBaseline":"middle","labelPadding":3,"labelFontSize":14}},"y":{"field":"ty","type":"quantitative","axis":{"values":[-2000,0,2000,4000,6000,8000],"format":"d","title":"Area under curve","titlePadding":7.5}},"text":{"field":"t"}}}
]
}
], "spacing": 0, "bounds": "flush"},
{"vconcat": [
{"width":1,"height":14.8,"data":{"values":[{}]},"mark":{"type":"point","size":0,"opacity":0},"encoding":{}},
{
"vconcat": [
{"width":227,"height":123,
"layer":[
{"data":{"name":"wfC"},"transform":[{"filter":"datum.v > 0"}],"mark":{"type":"bar"},"encoding":{
"x":{"field":"p","type":"ordinal","scale":{"domain":[1,2,3,4,5,6,7,8,9,10,11,12,13,14,15,16,17,18,19,20,21,22,23,24,25,26,27,28,29,30,31,32,33,34,35,36,37,38,39,40,41,42,43],"paddingInner":0.38,"paddingOuter":0.1},"axis":null},
"y":{"field":"v","type":"quantitative","scale":{"domain":[0,1000],"nice":false},"axis":{"values":[0,500,750,1000],"format":"d","labelExpr":"datum.value == 0 ? '' : datum.label","title":null}},
"color":{"field":"g","type":"nominal","scale":{"domain":["Vehicle","Zeno, 2.5 mg/kg","Zeno, 8 mg/kg","Zeno, 25 mg/kg"],"range":["#000000","#82d1fa","#1a9af0","#0c4f8f"]},"legend":{"orient":"none","legendX":60,"legendY":-13.9,"title":null,"symbolType":"M-1.34,-0.4H1.34V0.4H-1.34Z","symbolSize":320,"symbolStrokeWidth":0,"symbolOpacity":1,"labelOffset":18.8,"rowPadding":0,"labelFontSize":14,"labelFontWeight":"bold","padding":0}}}},
{"data":{"values":[{}]},"mark":{"type":"rule","color":"#000","strokeWidth":1.5,"strokeDash":[2,3]},"encoding":{"y":{"datum":0,"type":"quantitative","axis":{"values":[0,500,750,1000],"format":"d","labelExpr":"datum.value == 0 ? '' : datum.label","title":null}}}}
]},
{"width":227,"height":84,
"layer":[
{"data":{"name":"wfC"},"transform":[{"filter":"datum.v < 0"}],"mark":{"type":"bar"},"encoding":{
"x":{"field":"p","type":"ordinal","scale":{"domain":[1,2,3,4,5,6,7,8,9,10,11,12,13,14,15,16,17,18,19,20,21,22,23,24,25,26,27,28,29,30,31,32,33,34,35,36,37,38,39,40,41,42,43],"paddingInner":0.38,"paddingOuter":0.1},"axis":null},
"y":{"field":"v","type":"quantitative","scale":{"domain":[-100,0],"nice":false},"axis":{"values":[-100,-75,-50,-25,0],"title":null}},
"color":{"field":"g","type":"nominal","scale":{"domain":["Vehicle","Zeno, 2.5 mg/kg","Zeno, 8 mg/kg","Zeno, 25 mg/kg"],"range":["#000000","#82d1fa","#1a9af0","#0c4f8f"]},"legend":null}}},
{"data":{"values":[{}]},"mark":{"type":"rule","color":"#000","strokeWidth":2},"encoding":{"y":{"datum":0,"type":"quantitative","axis":{"values":[-100,-75,-50,-25,0],"title":null}}}},
{"data":{"values":[{}]},"mark":{"type":"rule","color":"#000","strokeWidth":2},"encoding":{"y":{"datum":-100,"type":"quantitative","axis":{"values":[-100,-75,-50,-25,0],"title":null}}}}
]}
],
"spacing": 19.6, "bounds": "flush",
"title": {"text":"Change in tumor volume (%)","orient":"left","anchor":"middle","fontSize":13,"fontWeight":"bold","offset":19.8,"frame":"bounds"},
"resolve": {"scale":{"color":"independent"},"legend":{"color":"independent"}}
}
], "spacing": 0, "bounds": "flush", "resolve": {"scale":{"color":"independent"},"legend":{"color":"independent"}}}
],
"spacing": 18.5,
"resolve": {"scale":{"color":"independent","shape":"independent"},"legend":{"color":"independent","shape":"independent"}}
}
], "spacing": 0, "resolve": {"scale":{"color":"independent","shape":"independent"},"legend":{"color":"independent","shape":"independent"}}}
],
"spacing": 5.7,
"resolve": {"scale":{"color":"independent","shape":"independent"},"legend":{"color":"independent","shape":"independent"}}
}
],
"spacing": 25,
"resolve": {"scale":{"color":"independent","shape":"independent"},"legend":{"color":"independent","shape":"independent"}},
"config": {
"font": "Liberation Sans",
"locale": {"number": {"decimal": ".", "thousands": ",", "grouping": [3], "currency": ["$", ""], "minus": "-"}},
"view": {"stroke": null},
"axis": {"grid": false, "domainColor": "#000", "domainWidth": 2, "tickColor": "#000", "tickWidth": 2, "tickSize": 7, "labelFont": "Liberation Sans", "labelFontSize": 13, "labelFontWeight": "bold", "labelColor": "#000", "labelPadding": 3, "labelFlush": false, "labelOverlap": false, "titleFont": "Liberation Sans", "titleFontSize": 13, "titleFontWeight": "bold", "titleColor": "#000"},
"legend": {"labelFont": "Liberation Sans", "labelFontSize": 14, "labelFontWeight": "bold", "labelColor": "#000", "padding": 0, "rowPadding": 0},
"title": {"font": "Liberation Sans", "color": "#000"},
"text": {"font": "Liberation Sans", "color": "#000"}
}
}
